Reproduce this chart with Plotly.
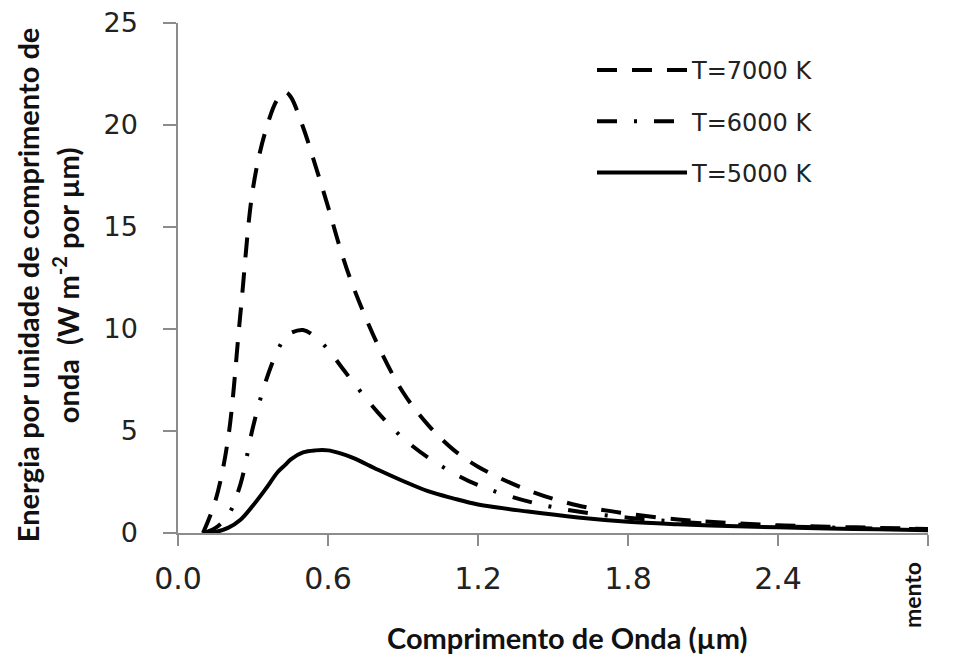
import plotly.graph_objects as go

wavelength = [0.10, 0.15, 0.20, 0.25, 0.30, 0.35, 0.40, 0.43, 0.45, 0.50, 0.55, 0.60,
              0.65, 0.70, 0.80, 0.90, 1.00, 1.10, 1.20, 1.40, 1.60, 1.80, 2.00, 2.20,
              2.40, 2.60, 2.80, 3.00]

t7000 = [0.0, 1.6, 4.6, 10.8, 16.9, 19.7, 21.3, 21.6, 21.4, 19.9, 18.0, 16.0,
         13.9, 12.1, 9.2, 6.9, 5.3, 4.1, 3.25, 2.1, 1.35, 0.95, 0.66, 0.5,
         0.38, 0.31, 0.25, 0.2]

t6000 = [0.0, 0.25, 0.85, 2.4, 5.2, 7.4, 9.0, 9.6, 9.8, 9.95, 9.6, 9.0,
         8.2, 7.4, 5.9, 4.65, 3.7, 2.95, 2.35, 1.55, 1.05, 0.75, 0.55, 0.42,
         0.33, 0.27, 0.22, 0.18]

t5000 = [0.0, 0.05, 0.25, 0.65, 1.35, 2.15, 3.0, 3.35, 3.6, 3.95, 4.05, 4.05,
         3.9, 3.68, 3.1, 2.55, 2.05, 1.7, 1.4, 1.05, 0.76, 0.55, 0.43, 0.34,
         0.28, 0.22, 0.18, 0.14]

series_names = ["T=7000 K", "T=6000 K", "T=5000 K"]

x_tickvals = [0.0, 0.6, 1.2, 1.8, 2.4, 3.0]
x_ticktext = ["0.0", "0.6", "1.2", "1.8", "2.4", ""]
y_tickvals = [0, 5, 10, 15, 20, 25]

fig = go.Figure()
styles = [("20px,15px", t7000), ("20px,17px,3px,17px", t6000), ("solid", t5000)]
for i, (name, (dash, vals)) in enumerate(zip(series_names, styles)):
    fig.add_trace(go.Scatter(
        x=wavelength, y=vals, name=name, mode="lines",
        line=dict(color="black", width=4, dash=dash, shape="spline", smoothing=1.0),
        legendgroup=f"g{i}",
    ))

axis_gray = "#8c8c8c"
title_font = dict(family="Lato", size=29, color="#111111", weight="bold")
fig.update_layout(
    width=956, height=658,
    margin=dict(l=170, r=36, t=15, b=133),
    paper_bgcolor="white", plot_bgcolor="white",
    font=dict(family="DejaVu Sans", color="#222222"),
    showlegend=True,
    legend=dict(
        x=0.552, y=0.951, xanchor="left", yanchor="top",
        font=dict(family="DejaVu Sans", size=24, color="#222222"),
        itemwidth=90, tracegroupgap=17, bgcolor="rgba(0,0,0,0)",
    ),
    xaxis=dict(
        range=[0, 3.0], tickvals=x_tickvals, ticktext=x_ticktext,
        showgrid=False, zeroline=False, showline=True, linecolor=axis_gray, linewidth=1.5,
        ticks="outside", ticklen=11, tickcolor=axis_gray, tickwidth=1.5,
        tickfont=dict(family="DejaVu Sans", size=30, color="#222222"),
        ticklabelstandoff=7, automargin=False, ticklabeloverflow="allow",
    ),
    yaxis=dict(
        range=[0, 25], tickvals=y_tickvals,
        showgrid=False, zeroline=False, showline=True, linecolor=axis_gray, linewidth=1.5,
        ticks="outside", ticklen=13, tickcolor=axis_gray, tickwidth=1.5,
        tickfont=dict(family="DejaVu Sans", size=27, color="#222222"),
        ticklabelstandoff=20, automargin=False, ticklabeloverflow="allow",
    ),
    annotations=[
        dict(text="Comprimento de Onda (µm)", xref="paper", yref="paper",
             x=0.519, y=-0.204, showarrow=False, xanchor="center", yanchor="middle",
             font=title_font),
        dict(text="Energia por unidade de comprimento de",
             xref="paper", yref="paper", x=-0.2013, y=0.486, showarrow=False,
             textangle=-90, xanchor="center", yanchor="middle", font=title_font),
        dict(text="onda  (W m<sup>-2</sup> por µm)",
             xref="paper", yref="paper", x=-0.1493, y=0.486, showarrow=False,
             textangle=-90, xanchor="center", yanchor="middle", font=title_font),
        dict(text="mento", xref="paper", yref="paper", x=0.9787, y=-0.1216,
             showarrow=False, textangle=-90, xanchor="center", yanchor="middle",
             font=dict(family="Lato", size=23, color="#111111", weight="bold")),
    ],
)

fig.write_html("out.html")
